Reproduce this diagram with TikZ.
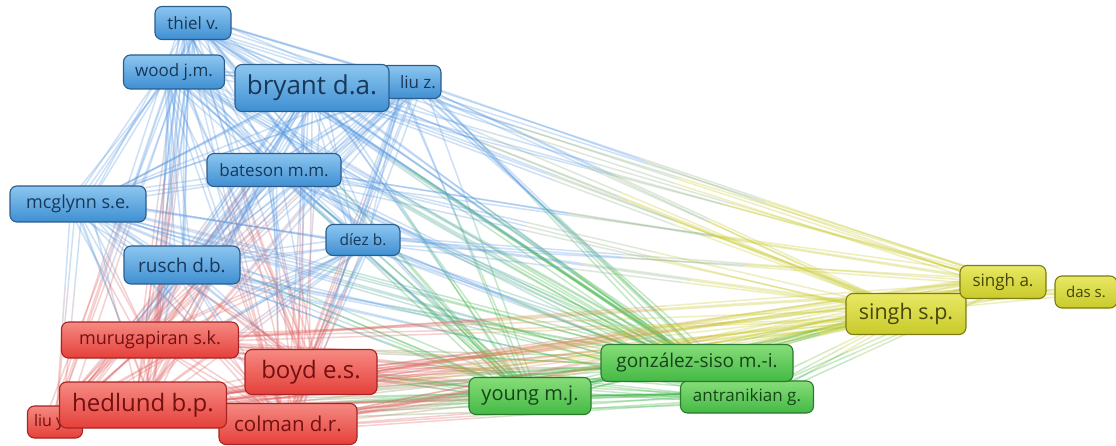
\documentclass[tikz,border=0pt]{standalone}
\usepackage{fontspec}
\setmainfont{Open Sans}
\usetikzlibrary{calc}
\pgfdeclarelayer{bg}
\pgfsetlayers{bg,main}
\definecolor{eb}{HTML}{5A9BE2}
\definecolor{er}{HTML}{E26464}
\definecolor{eg}{HTML}{3EB548}
\definecolor{ey}{HTML}{C8CA28}
\definecolor{bTop}{HTML}{8CC6F0}
\definecolor{bBot}{HTML}{3F8FD2}
\definecolor{bBor}{HTML}{2B5D8C}
\definecolor{bTxt}{HTML}{18385A}
\definecolor{rTop}{HTML}{F58A82}
\definecolor{rBot}{HTML}{E5403A}
\definecolor{rBor}{HTML}{A82323}
\definecolor{rTxt}{HTML}{741010}
\definecolor{gTop}{HTML}{86DE78}
\definecolor{gBot}{HTML}{44B845}
\definecolor{gBor}{HTML}{2A7A2C}
\definecolor{gTxt}{HTML}{164418}
\definecolor{yTop}{HTML}{E8E865}
\definecolor{yBot}{HTML}{C9CA2A}
\definecolor{yBor}{HTML}{7C7C12}
\definecolor{yTxt}{HTML}{46460A}
\tikzset{
  lab/.style={rounded corners=7pt, inner sep=0pt, line width=1.1pt, align=center},
  bl/.style={lab, draw=bBor, top color=bTop, bottom color=bBot, text=bTxt},
  rd/.style={lab, draw=rBor, top color=rTop, bottom color=rBot, text=rTxt},
  gr/.style={lab, draw=gBor, top color=gTop, bottom color=gBot, text=gTxt},
  yl/.style={lab, draw=yBor, top color=yTop, bottom color=yBot, text=yTxt},
  sz/.style n args={3}{minimum width=#1pt, minimum height=#2pt, font=\fontsize{#3}{#3}\selectfont},
  edge/.style={line width=1.5pt, opacity=0.3},
}
\newcommand\lnk[4]{%
  \foreach \k in {1,2,3}{%
    \pgfmathsetmacro\ax{rand*12}\pgfmathsetmacro\ay{rand*7}%
    \pgfmathsetmacro\bx{rand*12}\pgfmathsetmacro\by{rand*7}%
    \coordinate (P) at ($(#1.center)+(\ax,\ay)$);
    \coordinate (Q) at ($(#2.center)+(\bx,\by)$);
    \draw[#3,edge] (P) -- ($(P)!0.4!(Q)$);
    \draw[#3!50!#4,edge] ($(P)!0.4!(Q)$) -- ($(P)!0.6!(Q)$);
    \draw[#4,edge] ($(P)!0.6!(Q)$) -- (Q);}}
\begin{document}
\begin{tikzpicture}[x=1pt,y=-1pt]
\pgfmathsetseed{11}
\useasboundingbox (0,0) rectangle (1116,446);
% nodes (back ones first)
\node[bl, sz={60}{33}{17}] (liuz) at (411,82) {\hspace*{14pt}liu z.};
\node[rd, sz={55}{32}{16}] (liuy) at (55,422) {liu y.\hspace*{8pt}};
\node[gr, sz={133}{32}{17}] (antr) at (747,397) {antranikian g.};
\node[yl, sz={62}{32}{15}] (dass) at (1086,292) {das s.};
\node[bl, sz={76}{33}{17}] (thiel) at (193,23) {thiel v.};
\node[bl, sz={101}{34}{17}] (wood) at (174,72) {wood j.m.};
\node[bl, sz={154}{47}{26}] (bryant) at (312,88) {bryant d.a.};
\node[bl, sz={134}{33}{17}] (bateson) at (274,170) {bateson m.m.};
\node[bl, sz={136}{36}{18}] (mcglynn) at (78,204) {mcglynn s.e.};
\node[bl, sz={74}{31}{15.5}] (diez) at (363,240) {díez b.};
\node[bl, sz={116}{38}{19}] (rusch) at (182,265) {rusch d.b.};
\node[rd, sz={177}{36}{18}] (murug) at (150,340) {murugapiran s.k.};
\node[rd, sz={138}{41}{20.5}] (colman) at (288,424) {colman d.r.};
\node[rd, sz={132}{45}{24}] (boyd) at (311,372) {boyd e.s.};
\node[rd, sz={167}{46}{24}] (hedlund) at (143,405) {hedlund b.p.};
\node[gr, sz={122}{37}{20}] (young) at (530,396) {young m.j.};
\node[gr, sz={192}{37}{19}] (gonz) at (697,363) {gonzález-siso m.-i.};
\node[yl, sz={120}{41}{21.5}] (singhsp) at (906,314) {singh s.p.};
\node[yl, sz={86}{33}{17}] (singha) at (1003,282) {singh a.};
% edges
\begin{pgfonlayer}{bg}
\fill[white] (0,0) rectangle (1116,446);
\foreach \a [count=\i] in {thiel,wood,bryant,liuz,bateson,mcglynn,diez,rusch}{
  \foreach \b [count=\j] in {thiel,wood,bryant,liuz,bateson,mcglynn,diez,rusch}{
    \ifnum\j>\i \lnk{\a}{\b}{eb}{eb}\fi}}
\foreach \a [count=\i] in {murug,colman,boyd,hedlund,liuy}{
  \foreach \b [count=\j] in {murug,colman,boyd,hedlund,liuy}{
    \ifnum\j>\i \lnk{\a}{\b}{er}{er}\fi}}
\foreach \a in {thiel,wood,bryant,liuz,bateson,mcglynn,diez,rusch}{
  \foreach \b in {murug,colman,boyd,hedlund,liuy}{\lnk{\a}{\b}{eb}{er}}}
\foreach \g in {young,gonz,antr}{
  \foreach \b in {thiel,wood,bryant,liuz,bateson,mcglynn,diez,rusch}{\lnk{\g}{\b}{eg}{eb}}
  \foreach \b in {murug,colman,boyd,hedlund,liuy}{\lnk{\g}{\b}{eg}{er}}}
\lnk{young}{gonz}{eg}{eg}
\lnk{young}{antr}{eg}{eg}
\lnk{gonz}{antr}{eg}{eg}
\foreach \y in {singhsp,singha}{
  \foreach \b in {thiel,bryant,liuz,bateson,diez}{\lnk{\y}{\b}{ey}{eb}}
  \foreach \b in {murug,colman,boyd,hedlund,liuy}{\lnk{\y}{\b}{ey}{er}}
  \foreach \b in {young,gonz,antr}{\lnk{\y}{\b}{ey}{eg}}}
\lnk{singhsp}{singha}{ey}{ey}
\lnk{singhsp}{dass}{ey}{ey}
\lnk{singha}{dass}{ey}{ey}
\end{pgfonlayer}
\end{tikzpicture}
\end{document}
